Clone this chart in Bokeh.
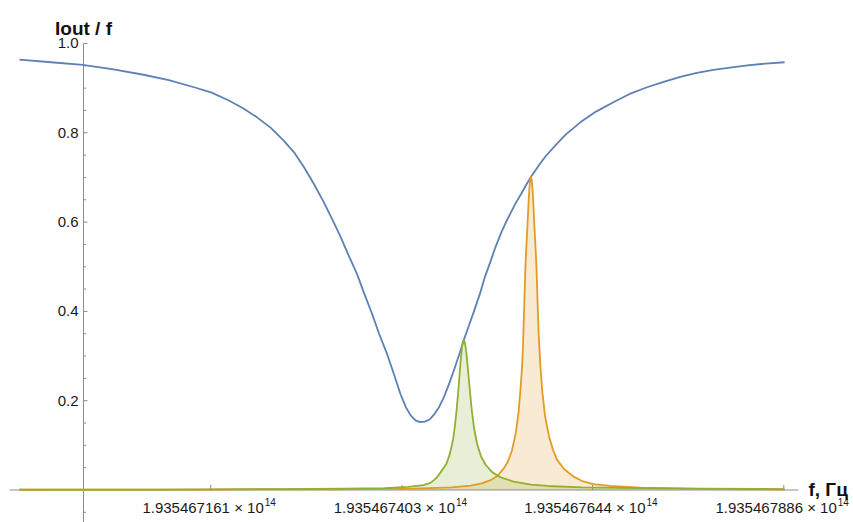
from bokeh.plotting import figure
from bokeh.models import Range1d
from bokeh.core.properties import value
from bokeh.embed import file_html
from bokeh.resources import INLINE

# ---------------- data (x: frequency offset in MHz from F0) ----------------
F0_MHZ = 193546700.0  # 1.935467e14 Hz expressed in MHz

blue_x = [-8.1, -4.1, -0.1, 3.8, 7.6, 10.8, 14.0, 16.2, 18.2, 20.2, 22.0, 23.7,
          25.3, 26.7, 27.9, 29.1, 30.3, 31.4, 32.5, 33.5, 34.6, 35.5, 36.5, 37.4,
          38.4, 39.3, 40.1, 40.8, 41.4, 42.0, 42.6, 43.2, 43.8, 44.4, 45.0, 45.6,
          46.3, 47.0, 47.6, 48.1, 48.7, 49.4, 50.2, 50.8, 51.5, 52.1, 52.8, 53.4,
          54.0, 54.7, 55.4, 56.0, 56.6, 57.6, 58.5, 59.5, 61.0, 62.9, 64.9, 67.1,
          69.1, 71.3, 73.4, 75.5, 77.6, 79.7, 81.8, 84.0, 86.3, 88.7]
blue_y = [0.964, 0.958, 0.952, 0.942, 0.930, 0.918, 0.902, 0.890, 0.874, 0.855,
          0.834, 0.811, 0.783, 0.755, 0.723, 0.687, 0.648, 0.609, 0.568, 0.527,
          0.484, 0.441, 0.395, 0.350, 0.305, 0.258, 0.215, 0.185, 0.167, 0.156,
          0.152, 0.153, 0.158, 0.170, 0.186, 0.208, 0.240, 0.275, 0.307, 0.335,
          0.365, 0.400, 0.442, 0.478, 0.512, 0.543, 0.574, 0.598, 0.619, 0.643,
          0.664, 0.683, 0.701, 0.727, 0.748, 0.768, 0.796, 0.824, 0.848, 0.869,
          0.887, 0.902, 0.914, 0.925, 0.934, 0.941, 0.946, 0.951, 0.955, 0.958]

orange_x = [-8.1, 16.6, 31.6, 41.6, 46.6, 49.0, 50.4, 51.5, 52.4, 53.2, 53.7,
            54.2, 54.7, 55.05, 55.3, 55.5, 55.6, 55.75, 55.9, 56.0, 56.15, 56.3,
            56.4, 56.5, 56.6, 56.7, 56.8, 56.9, 57.05, 57.2, 57.3, 57.45, 57.6,
            57.8, 58.05, 58.4, 58.9, 59.4, 59.9, 60.8, 62.0, 63.1, 64.5, 66.6,
            70.5, 78.9, 88.7]
orange_y = [0.0005, 0.001, 0.0015, 0.003, 0.006, 0.010, 0.015, 0.022, 0.032,
            0.049, 0.064, 0.088, 0.128, 0.175, 0.228, 0.279, 0.320, 0.405, 0.495,
            0.535, 0.585, 0.640, 0.672, 0.693, 0.701, 0.695, 0.676, 0.645, 0.590,
            0.540, 0.503, 0.420, 0.345, 0.279, 0.220, 0.165, 0.120, 0.090, 0.068,
            0.047, 0.030, 0.020, 0.013, 0.009, 0.005, 0.002, 0.001]

green_x = [-8.1, 10.0, 25.0, 33.0, 38.1, 41.1, 43.0, 43.9, 44.6, 45.2, 45.9,
           46.3, 46.6, 46.8, 47.0, 47.2, 47.35, 47.5, 47.65, 47.8, 47.9, 48.0,
           48.1, 48.2, 48.3, 48.45, 48.6, 48.78, 48.96, 49.15, 49.4, 49.8, 50.3,
           50.9, 51.7, 52.7, 54.4, 56.6, 58.7, 63.1, 70.1, 78.1, 88.7]
green_y = [0.0008, 0.001, 0.002, 0.003, 0.004, 0.007, 0.011, 0.016, 0.026,
           0.040, 0.058, 0.078, 0.100, 0.118, 0.145, 0.178, 0.208, 0.240, 0.275,
           0.305, 0.322, 0.332, 0.336, 0.333, 0.325, 0.305, 0.278, 0.243, 0.208,
           0.175, 0.140, 0.103, 0.075, 0.056, 0.040, 0.029, 0.019, 0.012, 0.009,
           0.006, 0.004, 0.003, 0.002]

x_ticks = [16.1, 40.3, 64.4, 88.6]
y_major = [0.2, 0.4, 0.6, 0.8, 1.0]
y_minor = [-0.05, 0.05, 0.1, 0.15, 0.25, 0.3, 0.35, 0.45, 0.5, 0.55, 0.65,
           0.7, 0.75, 0.85, 0.9, 0.95]
y_labels = ["0.2", "0.4", "0.6", "0.8", "1.0"]
x_labels = ["%.9f \u00d7 10" % ((F0_MHZ + t) * 1e6 / 1e14) for t in x_ticks]
x_exponent = ["14", "14", "14", "14"]

# ---------------- layout ----------------
X_START, X_END = -10.50, 97.42
Y_START, Y_END = -0.0728, 1.0963
X_AX0, X_AX1 = -9.36, 90.46
Y_AX1 = 1.0

BLUE = "#5E81B5"
ORANGE = "#E19C24"
GREEN = "#8FB032"
AXIS = "#8c8c8c"
FONT = "Liberation Sans"

p = figure(width=853, height=522, x_range=Range1d(X_START, X_END),
           y_range=Range1d(Y_START, Y_END), output_backend="svg",
           toolbar_location=None, x_axis_type=None, y_axis_type=None,
           min_border=0)
p.grid.visible = False
p.outline_line_color = None
p.background_fill_color = "white"
p.border_fill_color = "white"

# fills under the peaks
p.varea(x=orange_x, y1=[0] * len(orange_x), y2=orange_y, fill_color=ORANGE, fill_alpha=0.2)
p.varea(x=green_x, y1=[0] * len(green_x), y2=green_y, fill_color=GREEN, fill_alpha=0.2)

# axes lines
p.segment(x0=[X_AX0], y0=[0], x1=[X_AX1], y1=[0], line_color=AXIS, line_width=1)
p.segment(x0=[0], y0=[Y_START], x1=[0], y1=[Y_AX1], line_color=AXIS, line_width=1)

# ticks
px_x = (X_END - X_START) / 853.0
px_y = (Y_END - Y_START) / 522.0
p.segment(x0=[0] * len(y_major), y0=y_major, x1=[4 * px_x] * len(y_major), y1=y_major,
          line_color=AXIS, line_width=1)
p.segment(x0=[0] * len(y_minor), y0=y_minor, x1=[2.5 * px_x] * len(y_minor), y1=y_minor,
          line_color=AXIS, line_width=1)
p.segment(x0=x_ticks, y0=[0] * len(x_ticks), x1=x_ticks, y1=[5 * px_y] * len(x_ticks),
          line_color=AXIS, line_width=1)

# curves
p.line(blue_x, blue_y, line_color=BLUE, line_width=1.8, line_join="round")
p.line(orange_x, orange_y, line_color=ORANGE, line_width=1.8, line_join="round")
p.line(green_x, green_y, line_color=GREEN, line_width=1.8, line_join="round")

# tick labels
p.text(x=[0] * len(y_major), y=y_major, text=y_labels, x_offset=-5,
       text_align="right", text_baseline="middle", text_font=value(FONT),
       text_font_size="15px", text_color="#1a1a1a")
p.text(x=x_ticks, y=[0] * len(x_ticks), text=x_labels, x_offset=53, y_offset=18,
       text_align="right", text_baseline="alphabetic", text_font=value(FONT),
       text_font_size="15px", text_color="#1a1a1a")
p.text(x=x_ticks, y=[0] * len(x_ticks), text=x_exponent, x_offset=54,
       y_offset=12.5, text_align="left", text_baseline="alphabetic",
       text_font=value(FONT), text_font_size="10px", text_color="#1a1a1a")

# axis titles
p.text(x=[0], y=[Y_AX1], text=["Iout / f"], y_offset=-15, text_align="center",
       text_baseline="alphabetic", text_font=value(FONT), text_font_size="19px",
       text_font_style="bold", text_color="#111111")
p.text(x=[X_AX1], y=[0], text=["f, \u0413\u0446"], x_offset=10, text_align="left",
       text_baseline="middle", text_font=value(FONT), text_font_size="19px",
       text_font_style="bold", text_color="#111111")

open("out.html", "w").write(file_html(p, INLINE))
